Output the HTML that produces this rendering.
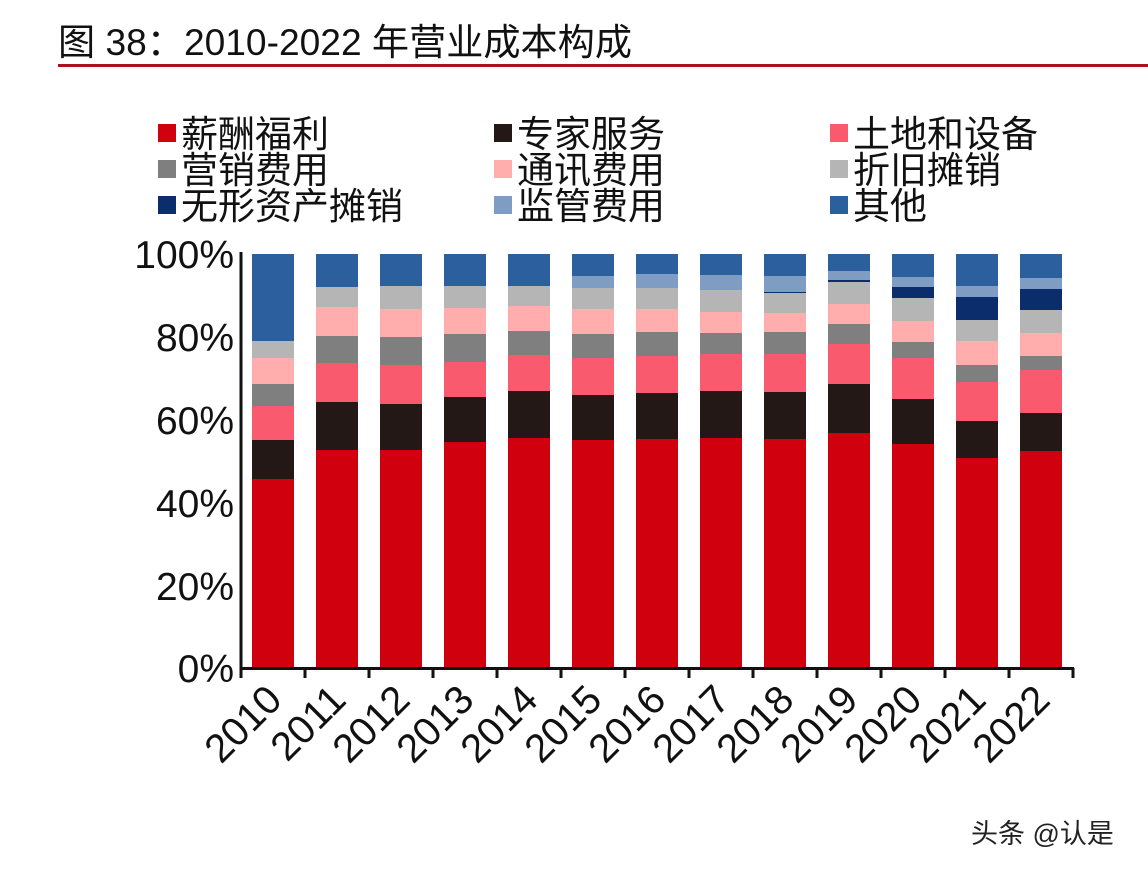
<!DOCTYPE html>
<html><head><meta charset="utf-8"><style>
html,body{margin:0;padding:0;background:#fff;}
svg{display:block;font-family:"Liberation Sans","Noto Sans CJK SC",sans-serif;}
.a{fill:#d0000f}.b{fill:#231815}.c{fill:#fa5a6e}.d{fill:#7f7f7f}.e{fill:#ffadad}.f{fill:#b5b5b5}.g{fill:#0c2d6b}.h{fill:#7f9dc2}.i{fill:#2b5f9e}
</style></head><body>
<svg width="1148" height="872" viewBox="0 0 1148 872">
<rect width="1148" height="872" fill="#fff"/>
<text x="58" y="55" font-size="37" fill="#111" textLength="574" lengthAdjust="spacingAndGlyphs">图 38：2010-2022 年营业成本构成</text>
<rect x="58" y="64" width="1090" height="3" fill="#a8141c"/>
<g font-size="37" fill="#111">
<rect x="158" y="124" width="18" height="18" class="a"/><text x="181" y="147">薪酬福利</text>
<rect x="494" y="124" width="18" height="18" class="b"/><text x="517" y="147">专家服务</text>
<rect x="830" y="124" width="18" height="18" class="c"/><text x="853" y="147">土地和设备</text>
<rect x="158" y="160" width="18" height="18" class="d"/><text x="181" y="183">营销费用</text>
<rect x="494" y="160" width="18" height="18" class="e"/><text x="517" y="183">通讯费用</text>
<rect x="830" y="160" width="18" height="18" class="f"/><text x="853" y="183">折旧摊销</text>
<rect x="158" y="196" width="18" height="18" class="g"/><text x="181" y="219">无形资产摊销</text>
<rect x="494" y="196" width="18" height="18" class="h"/><text x="517" y="219">监管费用</text>
<rect x="830" y="196" width="18" height="18" class="i"/><text x="853" y="219">其他</text>
</g>
<g font-size="39" fill="#111" text-anchor="end">
<text x="234" y="268">100%</text><text x="234" y="351">80%</text><text x="234" y="434">60%</text>
<text x="234" y="517">40%</text><text x="234" y="600">20%</text><text x="234" y="682">0%</text>
</g>
<g transform="translate(252,0)"><rect y="479" width="42" height="189" class="a"/><rect y="440" width="42" height="39" class="b"/><rect y="406" width="42" height="34" class="c"/><rect y="384" width="42" height="22" class="d"/><rect y="358" width="42" height="26" class="e"/><rect y="341" width="42" height="17" class="f"/><rect y="254" width="42" height="87" class="i"/></g>
<g transform="translate(316,0)"><rect y="450" width="42" height="218" class="a"/><rect y="402" width="42" height="48" class="b"/><rect y="363" width="42" height="39" class="c"/><rect y="336" width="42" height="27" class="d"/><rect y="307" width="42" height="29" class="e"/><rect y="287" width="42" height="20" class="f"/><rect y="254" width="42" height="33" class="i"/></g>
<g transform="translate(380,0)"><rect y="450" width="42" height="218" class="a"/><rect y="404" width="42" height="46" class="b"/><rect y="365" width="42" height="39" class="c"/><rect y="337" width="42" height="28" class="d"/><rect y="309" width="42" height="28" class="e"/><rect y="286" width="42" height="23" class="f"/><rect y="254" width="42" height="32" class="i"/></g>
<g transform="translate(444,0)"><rect y="442" width="42" height="226" class="a"/><rect y="397" width="42" height="45" class="b"/><rect y="362" width="42" height="35" class="c"/><rect y="334" width="42" height="28" class="d"/><rect y="308" width="42" height="26" class="e"/><rect y="286" width="42" height="22" class="f"/><rect y="254" width="42" height="32" class="i"/></g>
<g transform="translate(508,0)"><rect y="438" width="42" height="230" class="a"/><rect y="391" width="42" height="47" class="b"/><rect y="355" width="42" height="36" class="c"/><rect y="331" width="42" height="24" class="d"/><rect y="306" width="42" height="25" class="e"/><rect y="286" width="42" height="20" class="f"/><rect y="254" width="42" height="32" class="i"/></g>
<g transform="translate(572,0)"><rect y="440" width="42" height="228" class="a"/><rect y="395" width="42" height="45" class="b"/><rect y="358" width="42" height="37" class="c"/><rect y="334" width="42" height="24" class="d"/><rect y="309" width="42" height="25" class="e"/><rect y="288" width="42" height="21" class="f"/><rect y="276" width="42" height="12" class="h"/><rect y="254" width="42" height="22" class="i"/></g>
<g transform="translate(636,0)"><rect y="439" width="42" height="229" class="a"/><rect y="393" width="42" height="46" class="b"/><rect y="356" width="42" height="37" class="c"/><rect y="332" width="42" height="24" class="d"/><rect y="309" width="42" height="23" class="e"/><rect y="288" width="42" height="21" class="f"/><rect y="274" width="42" height="14" class="h"/><rect y="254" width="42" height="20" class="i"/></g>
<g transform="translate(700,0)"><rect y="438" width="42" height="230" class="a"/><rect y="391" width="42" height="47" class="b"/><rect y="354" width="42" height="37" class="c"/><rect y="333" width="42" height="21" class="d"/><rect y="312" width="42" height="21" class="e"/><rect y="290" width="42" height="22" class="f"/><rect y="275" width="42" height="15" class="h"/><rect y="254" width="42" height="21" class="i"/></g>
<g transform="translate(764,0)"><rect y="439" width="42" height="229" class="a"/><rect y="392" width="42" height="47" class="b"/><rect y="354" width="42" height="38" class="c"/><rect y="332" width="42" height="22" class="d"/><rect y="313" width="42" height="19" class="e"/><rect y="293" width="42" height="20" class="f"/><rect y="292" width="42" height="1" class="g"/><rect y="276" width="42" height="16" class="h"/><rect y="254" width="42" height="22" class="i"/></g>
<g transform="translate(828,0)"><rect y="433" width="42" height="235" class="a"/><rect y="384" width="42" height="49" class="b"/><rect y="344" width="42" height="40" class="c"/><rect y="324" width="42" height="20" class="d"/><rect y="304" width="42" height="20" class="e"/><rect y="282" width="42" height="22" class="f"/><rect y="280" width="42" height="2" class="g"/><rect y="271" width="42" height="9" class="h"/><rect y="254" width="42" height="17" class="i"/></g>
<g transform="translate(892,0)"><rect y="444" width="42" height="224" class="a"/><rect y="399" width="42" height="45" class="b"/><rect y="358" width="42" height="41" class="c"/><rect y="342" width="42" height="16" class="d"/><rect y="321" width="42" height="21" class="e"/><rect y="298" width="42" height="23" class="f"/><rect y="287" width="42" height="11" class="g"/><rect y="277" width="42" height="10" class="h"/><rect y="254" width="42" height="23" class="i"/></g>
<g transform="translate(956,0)"><rect y="458" width="42" height="210" class="a"/><rect y="421" width="42" height="37" class="b"/><rect y="382" width="42" height="39" class="c"/><rect y="365" width="42" height="17" class="d"/><rect y="341" width="42" height="24" class="e"/><rect y="320" width="42" height="21" class="f"/><rect y="297" width="42" height="23" class="g"/><rect y="286" width="42" height="11" class="h"/><rect y="254" width="42" height="32" class="i"/></g>
<g transform="translate(1020,0)"><rect y="451" width="42" height="217" class="a"/><rect y="413" width="42" height="38" class="b"/><rect y="370" width="42" height="43" class="c"/><rect y="356" width="42" height="14" class="d"/><rect y="333" width="42" height="23" class="e"/><rect y="310" width="42" height="23" class="f"/><rect y="289" width="42" height="21" class="g"/><rect y="278" width="42" height="11" class="h"/><rect y="254" width="42" height="24" class="i"/></g>
<g stroke="#111" stroke-width="3">
<line x1="241" y1="252" x2="241" y2="678"/>
<line x1="240" y1="668.5" x2="1074" y2="668.5"/>
<line x1="305" y1="668" x2="305" y2="678"/><line x1="369" y1="668" x2="369" y2="678"/><line x1="433" y1="668" x2="433" y2="678"/><line x1="497" y1="668" x2="497" y2="678"/><line x1="561" y1="668" x2="561" y2="678"/><line x1="625" y1="668" x2="625" y2="678"/><line x1="689" y1="668" x2="689" y2="678"/><line x1="753" y1="668" x2="753" y2="678"/><line x1="817" y1="668" x2="817" y2="678"/><line x1="881" y1="668" x2="881" y2="678"/><line x1="945" y1="668" x2="945" y2="678"/><line x1="1009" y1="668" x2="1009" y2="678"/><line x1="1073" y1="668" x2="1073" y2="678"/>
</g>
<g font-size="40" fill="#111" text-anchor="end">
<text transform="translate(284,702) rotate(-45)">2010</text>
<text transform="translate(348,702) rotate(-45)">2011</text>
<text transform="translate(412,702) rotate(-45)">2012</text>
<text transform="translate(476,702) rotate(-45)">2013</text>
<text transform="translate(540,702) rotate(-45)">2014</text>
<text transform="translate(604,702) rotate(-45)">2015</text>
<text transform="translate(668,702) rotate(-45)">2016</text>
<text transform="translate(732,702) rotate(-45)">2017</text>
<text transform="translate(796,702) rotate(-45)">2018</text>
<text transform="translate(860,702) rotate(-45)">2019</text>
<text transform="translate(924,702) rotate(-45)">2020</text>
<text transform="translate(988,702) rotate(-45)">2021</text>
<text transform="translate(1052,702) rotate(-45)">2022</text>
</g>
<text x="971" y="843" font-size="27" fill="#222">头条 @认是</text>
</svg>
</body></html>
